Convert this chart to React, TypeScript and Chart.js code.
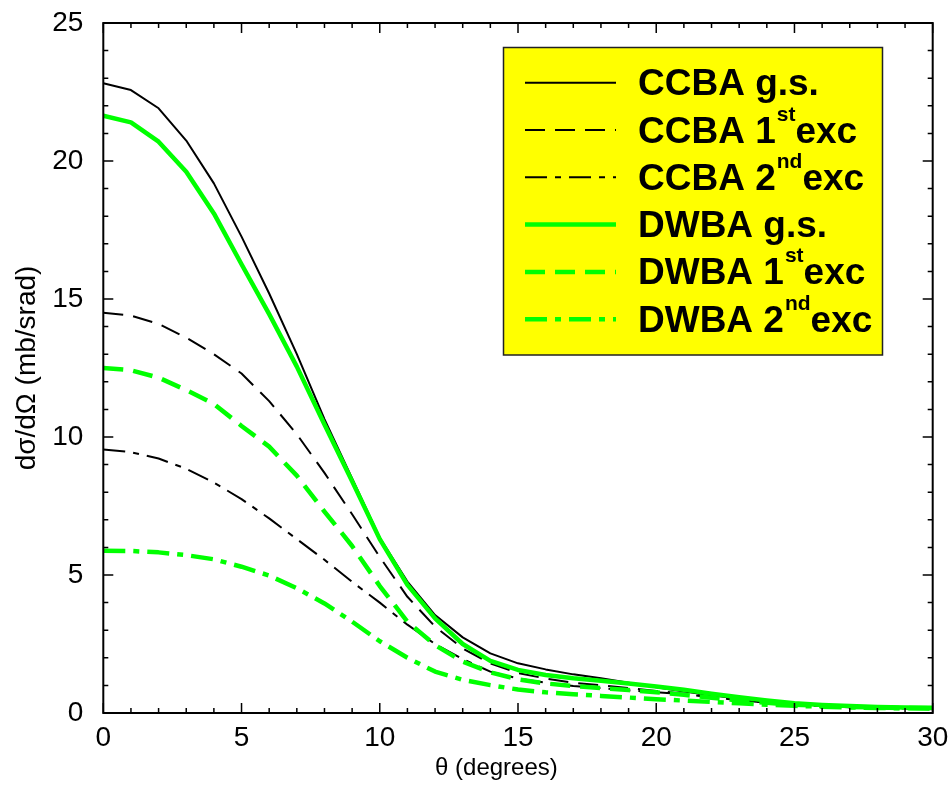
import React, { useEffect, useRef } from 'react';
import { Chart, registerables } from 'chart.js';

Chart.register(...registerables);

// ---------- data ----------
const THETA = [0, 1, 2, 3, 4, 5, 6, 7, 8, 9, 10, 11, 12, 13, 14, 15, 16, 17, 18, 19, 20, 21, 22, 23, 24, 25, 26, 27, 28, 29, 30];

const CCBA_GS = [22.82, 22.57, 21.91, 20.74, 19.19, 17.26, 15.2, 13.0, 10.65, 8.5, 6.35, 4.76, 3.55, 2.74, 2.16, 1.8, 1.58, 1.4, 1.26, 1.1, 0.93, 0.78, 0.64, 0.52, 0.42, 0.34, 0.28, 0.23, 0.2, 0.18, 0.16];
const CCBA_1ST = [14.5, 14.4, 14.1, 13.6, 13.0, 12.3, 11.3, 10.1, 8.7, 7.2, 5.65, 4.21, 3.13, 2.34, 1.8, 1.45, 1.25, 1.1, 1.0, 0.9, 0.8, 0.7, 0.58, 0.47, 0.38, 0.31, 0.25, 0.21, 0.18, 0.16, 0.14];
const CCBA_2ND = [9.55, 9.45, 9.22, 8.85, 8.35, 7.75, 7.05, 6.3, 5.55, 4.75, 4.0, 3.2, 2.5, 1.95, 1.5, 1.25, 1.1, 0.98, 0.9, 0.82, 0.75, 0.68, 0.57, 0.46, 0.37, 0.3, 0.25, 0.21, 0.18, 0.16, 0.14];
const DWBA_GS = [21.64, 21.4, 20.7, 19.61, 18.1, 16.26, 14.45, 12.55, 10.45, 8.4, 6.3, 4.64, 3.43, 2.5, 1.89, 1.56, 1.38, 1.26, 1.17, 1.07, 0.96, 0.84, 0.7, 0.57, 0.45, 0.35, 0.29, 0.25, 0.22, 0.2, 0.19];
const DWBA_1ST = [12.5, 12.42, 12.15, 11.7, 11.2, 10.4, 9.65, 8.6, 7.3, 6.05, 4.6, 3.31, 2.46, 1.86, 1.47, 1.22, 1.07, 0.98, 0.9, 0.83, 0.75, 0.66, 0.55, 0.45, 0.37, 0.3, 0.26, 0.22, 0.2, 0.18, 0.17];
const DWBA_2ND = [5.88, 5.87, 5.82, 5.72, 5.57, 5.3, 4.98, 4.52, 3.97, 3.31, 2.6, 2.0, 1.5, 1.2, 1.01, 0.85, 0.75, 0.68, 0.62, 0.56, 0.5, 0.45, 0.4, 0.35, 0.3, 0.26, 0.23, 0.2, 0.18, 0.17, 0.16];

const SERIES_LABELS = ['CCBA g.s.', 'CCBA 1^{st}exc', 'CCBA 2^{nd}exc', 'DWBA g.s.', 'DWBA 1^{st}exc', 'DWBA 2^{nd}exc'];
const X_TICK_STEP = 5;
const Y_TICK_STEP = 5;
const X_TITLE = 'θ (degrees)';
const Y_TITLE = 'dσ/dΩ (mb/srad)';

const FONT = '"Liberation Sans", Arial, Helvetica, sans-serif';
const BLACK = '#000000';
const GREEN = '#00ff00';

const DASHED = [20, 10];
const DASH_DOT = [22, 8, 6, 8];

// ---------- plugins ----------
const frameTicksPlugin = {
  id: 'frameTicks',
  afterDatasetsDraw(chart: any) {
    const { ctx, chartArea } = chart;
    const { left, right, top, bottom } = chartArea;
    const xs = chart.scales.x;
    const ys = chart.scales.y;
    ctx.save();
    ctx.strokeStyle = '#000';
    ctx.lineWidth = 1.5;
    ctx.beginPath();
    for (let v = xs.min; v <= xs.max + 1e-9; v += 1) {
      const px = xs.getPixelForValue(v);
      const len = Math.abs(v % X_TICK_STEP) < 1e-9 ? 10 : 5;
      ctx.moveTo(px, bottom);
      ctx.lineTo(px, bottom - len);
      ctx.moveTo(px, top);
      ctx.lineTo(px, top + len);
    }
    for (let v = ys.min; v <= ys.max + 1e-9; v += 1) {
      const py = ys.getPixelForValue(v);
      const len = Math.abs(v % Y_TICK_STEP) < 1e-9 ? 10 : 5;
      ctx.moveTo(left, py);
      ctx.lineTo(left + len, py);
      ctx.moveTo(right, py);
      ctx.lineTo(right - len, py);
    }
    ctx.stroke();
    ctx.lineWidth = 2;
    ctx.strokeRect(left, top, right - left, bottom - top);

    // x axis title
    ctx.fillStyle = '#000';
    ctx.font = `24px ${FONT}`;
    ctx.textAlign = 'center';
    ctx.textBaseline = 'middle';
    ctx.fillText(X_TITLE, left + (right - left) * 0.474, 768);
    ctx.restore();
  },
};

function parseLabel(label: string) {
  const parts: { text: string; sup: boolean }[] = [];
  const re = /\^\{([^}]*)\}/g;
  let last = 0;
  let m: RegExpExecArray | null;
  while ((m = re.exec(label)) !== null) {
    if (m.index > last) parts.push({ text: label.slice(last, m.index), sup: false });
    parts.push({ text: m[1], sup: true });
    last = m.index + m[0].length;
  }
  if (last < label.length) parts.push({ text: label.slice(last), sup: false });
  return parts;
}

const boxLegendPlugin = {
  id: 'boxLegend',
  afterDraw(chart: any) {
    const { ctx } = chart;
    const bx = 503.5;
    const by = 47.5;
    const bw = 379;
    const bh = 307.5;
    ctx.save();
    ctx.fillStyle = '#ffff00';
    ctx.fillRect(bx, by, bw, bh);
    ctx.strokeStyle = '#222';
    ctx.lineWidth = 1.5;
    ctx.strokeRect(bx, by, bw, bh);

    const rowH = 47.3;
    const y0 = 82.7;
    chart.data.datasets.forEach((ds: any, i: number) => {
      const cy = y0 + i * rowH;
      ctx.save();
      ctx.strokeStyle = ds.borderColor;
      ctx.lineWidth = ds.borderWidth;
      ctx.setLineDash(ds.borderDash || []);
      ctx.lineCap = 'butt';
      ctx.beginPath();
      ctx.moveTo(525, cy);
      ctx.lineTo(616, cy);
      ctx.stroke();
      ctx.restore();

      let x = 638;
      const base = cy + 12.5;
      ctx.fillStyle = '#000';
      ctx.textAlign = 'left';
      ctx.textBaseline = 'alphabetic';
      parseLabel(ds.label).forEach((p) => {
        if (p.sup) {
          ctx.font = `bold 21px ${FONT}`;
          ctx.fillText(p.text, x + 1, base - 22);
          x += ctx.measureText(p.text).width + 1;
        } else {
          ctx.font = `bold 37px ${FONT}`;
          ctx.fillText(p.text, x, base);
          x += ctx.measureText(p.text).width;
        }
      });
    });
    ctx.restore();
  },
};

function makeData(vals: number[]) {
  return THETA.map((t, i) => ({ x: t, y: vals[i] }));
}

export default function App() {
  const canvasRef = useRef<HTMLCanvasElement | null>(null);

  useEffect(() => {
    const canvas = canvasRef.current;
    if (!canvas) return;
    const common = { pointRadius: 0, tension: 0, fill: false, borderCapStyle: 'butt', borderJoinStyle: 'round' };
    const chart = new Chart(canvas, {
      type: 'line',
      data: {
        datasets: [
          { ...common, label: SERIES_LABELS[0], data: makeData(CCBA_GS), borderColor: BLACK, borderWidth: 2, borderDash: [], order: 2 },
          { ...common, label: SERIES_LABELS[1], data: makeData(CCBA_1ST), borderColor: BLACK, borderWidth: 2, borderDash: DASHED, order: 2 },
          { ...common, label: SERIES_LABELS[2], data: makeData(CCBA_2ND), borderColor: BLACK, borderWidth: 2, borderDash: DASH_DOT, order: 2 },
          { ...common, label: SERIES_LABELS[3], data: makeData(DWBA_GS), borderColor: GREEN, borderWidth: 4.5, borderDash: [], order: 1 },
          { ...common, label: SERIES_LABELS[4], data: makeData(DWBA_1ST), borderColor: GREEN, borderWidth: 4.5, borderDash: DASHED, order: 1 },
          { ...common, label: SERIES_LABELS[5], data: makeData(DWBA_2ND), borderColor: GREEN, borderWidth: 4.5, borderDash: DASH_DOT, order: 1 },
        ] as any,
      },
      options: {
        animation: false,
        responsive: true,
        maintainAspectRatio: false,
        devicePixelRatio: 1,
        layout: { padding: { top: 23, right: 17.3, left: 0, bottom: 0 } },
        plugins: { legend: { display: false }, tooltip: { enabled: false } },
        scales: {
          x: {
            type: 'linear',
            min: 0,
            max: 30,
            ticks: { stepSize: X_TICK_STEP, color: '#000', font: { size: 28, family: FONT }, padding: 8, maxRotation: 0 },
            grid: { display: false, drawTicks: false },
            border: { display: false },
            afterFit: (s: any) => { s.height = 78; s.paddingLeft = 0; s.paddingRight = 0; },
          },
          y: {
            type: 'linear',
            min: 0,
            max: 25,
            ticks: { stepSize: Y_TICK_STEP, color: '#000', font: { size: 28, family: FONT }, padding: 20 },
            grid: { display: false, drawTicks: false },
            border: { display: false },
            title: { display: true, text: Y_TITLE, color: '#000', font: { size: 28, family: FONT }, padding: { top: 10, bottom: 0 } },
            afterFit: (s: any) => { s.width = 103.3; s.paddingTop = 0; s.paddingBottom = 0; },
          },
        },
      } as any,
      plugins: [frameTicksPlugin, boxLegendPlugin],
    });
    return () => chart.destroy();
  }, []);

  return (
    <div style={{ position: 'fixed', left: 0, top: 0, width: 950, height: 791, background: '#fff' }}>
      <canvas ref={canvasRef} />
    </div>
  );
}
